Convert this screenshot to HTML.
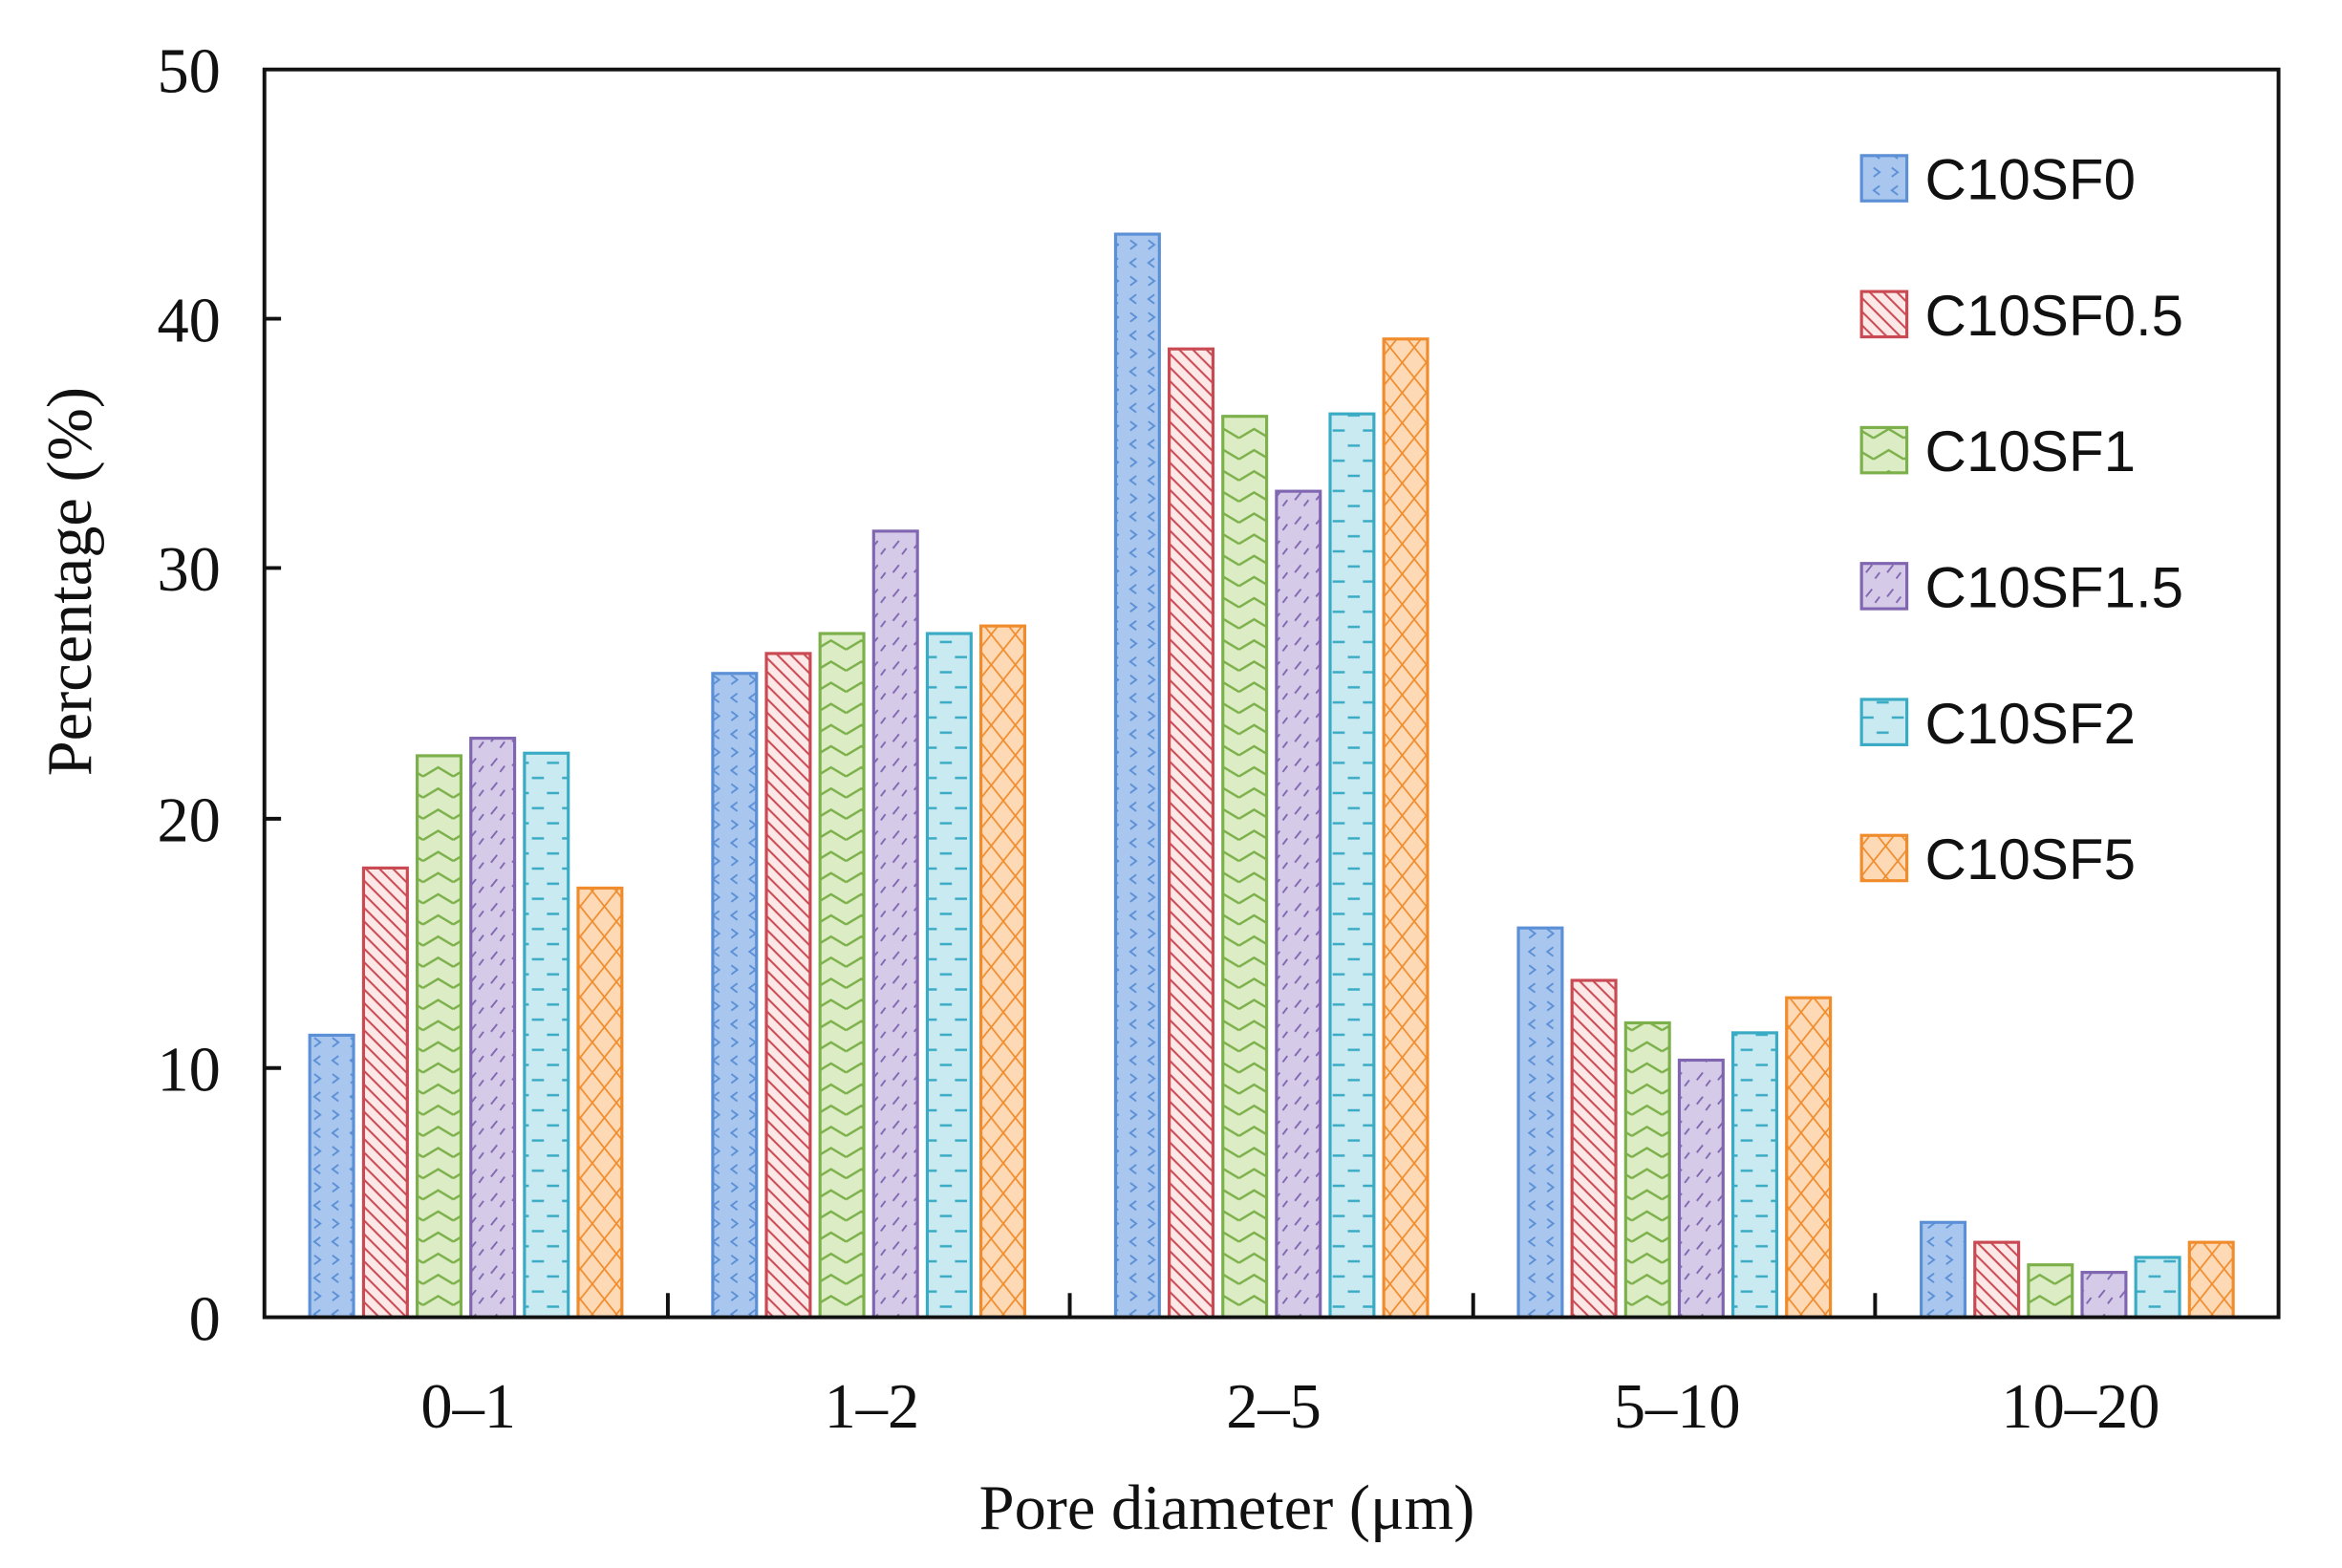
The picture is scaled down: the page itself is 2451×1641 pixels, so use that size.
<!DOCTYPE html>
<html><head><meta charset="utf-8"><style>html,body{margin:0;padding:0;background:#fff}svg{display:block}
.s0{fill:url(#p0);stroke:#5b8fd6;stroke-width:2}.s1{fill:url(#p1);stroke:#c94a52;stroke-width:2}.s2{fill:url(#p2);stroke:#7cb04a;stroke-width:2}.s3{fill:url(#p3);stroke:#8066b0;stroke-width:2}.s4{fill:url(#p4);stroke:#3aabc4;stroke-width:2}.s5{fill:url(#p5);stroke:#f08c2c;stroke-width:2}
</style></head>
<body>
<svg width="2451" height="1641" viewBox="0 0 1550 1038" preserveAspectRatio="none" xmlns="http://www.w3.org/2000/svg" font-family="Liberation Serif, serif">
<defs>
<pattern id="p0" width="12" height="24" patternUnits="userSpaceOnUse"><rect width="12" height="24" fill="#a9c7ee"/><path d="M8 3 L4 6 L8 9 M4 15 L8 18 L4 21" stroke="#5b8fd6" stroke-width="1.2" fill="none"/></pattern>
<pattern id="p1" width="9" height="9" patternUnits="userSpaceOnUse"><rect width="9" height="9" fill="#fde8e8"/><path d="M-2 -2 L11 11 M-2 7 L2 11 M7 -2 L11 2" stroke="#c94a52" stroke-width="1.3"/></pattern>
<pattern id="p2" width="20" height="14" patternUnits="userSpaceOnUse"><rect width="20" height="14" fill="#dcecc4"/><path d="M0 10 L10 4 L20 10" stroke="#7cb04a" stroke-width="1.5" fill="none"/></pattern>
<pattern id="p3" width="14" height="16" patternUnits="userSpaceOnUse"><rect width="14" height="16" fill="#d5cbe8"/><path d="M3 11 L7 6 M9 15 L12 11" stroke="#8066b0" stroke-width="1.2"/></pattern>
<pattern id="p4" width="20" height="20" patternUnits="userSpaceOnUse"><rect width="20" height="20" fill="#caeaf2"/><path d="M2 5 L10 5 M12 15 L20 15" stroke="#3aabc4" stroke-width="1.6"/></pattern>
<pattern id="p5" width="16" height="20" patternUnits="userSpaceOnUse"><rect width="16" height="20" fill="#fdd9b6"/><path d="M0 0 L16 20 M16 0 L0 20" stroke="#f08c2c" stroke-width="1.1"/></pattern>
</defs>
<g>
<rect class="s0" x="205.0" y="685.3" width="29" height="186.7"/>
<rect class="s1" x="240.6" y="574.6" width="29" height="297.4"/>
<rect class="s2" x="276.1" y="500.3" width="29" height="371.7"/>
<rect class="s3" x="311.6" y="488.7" width="29" height="383.3"/>
<rect class="s4" x="347.1" y="498.6" width="29" height="373.4"/>
<rect class="s5" x="382.6" y="587.9" width="29" height="284.1"/>

<rect class="s0" x="471.7" y="445.8" width="29" height="426.2"/>
<rect class="s1" x="507.2" y="432.6" width="29" height="439.4"/>
<rect class="s2" x="542.7" y="419.4" width="29" height="452.6"/>
<rect class="s3" x="578.2" y="351.6" width="29" height="520.4"/>
<rect class="s4" x="613.7" y="419.4" width="29" height="452.6"/>
<rect class="s5" x="649.2" y="414.4" width="29" height="457.6"/>

<rect class="s0" x="738.3" y="155.0" width="29" height="717.0"/>
<rect class="s1" x="773.8" y="231.0" width="29" height="641.0"/>
<rect class="s2" x="809.3" y="275.6" width="29" height="596.4"/>
<rect class="s3" x="844.8" y="325.2" width="29" height="546.8"/>
<rect class="s4" x="880.3" y="274.0" width="29" height="598.0"/>
<rect class="s5" x="915.8" y="224.4" width="29" height="647.6"/>

<rect class="s0" x="1004.9" y="614.3" width="29" height="257.7"/>
<rect class="s1" x="1040.4" y="649.0" width="29" height="223.0"/>
<rect class="s2" x="1075.9" y="677.1" width="29" height="194.9"/>
<rect class="s3" x="1111.4" y="701.8" width="29" height="170.2"/>
<rect class="s4" x="1146.9" y="683.7" width="29" height="188.3"/>
<rect class="s5" x="1182.4" y="660.5" width="29" height="211.5"/>

<rect class="s0" x="1271.5" y="809.2" width="29" height="62.8"/>
<rect class="s1" x="1307.0" y="822.4" width="29" height="49.6"/>
<rect class="s2" x="1342.5" y="837.3" width="29" height="34.7"/>
<rect class="s3" x="1378.0" y="842.3" width="29" height="29.7"/>
<rect class="s4" x="1413.5" y="832.4" width="29" height="39.6"/>
<rect class="s5" x="1449.0" y="822.4" width="29" height="49.6"/>
</g>
<rect x="175" y="46" width="1333" height="826" fill="none" stroke="#111" stroke-width="2.5"/>
<g stroke="#111" stroke-width="2.5">
<line x1="175" y1="707" x2="186" y2="707"/><line x1="175" y1="542" x2="186" y2="542"/><line x1="175" y1="376" x2="186" y2="376"/><line x1="175" y1="211" x2="186" y2="211"/>
<line x1="442" y1="872" x2="442" y2="856"/><line x1="708" y1="872" x2="708" y2="856"/><line x1="975" y1="872" x2="975" y2="856"/><line x1="1241" y1="872" x2="1241" y2="856"/>
</g>
<g font-size="42" fill="#111" text-anchor="end">
<text x="146" y="887">0</text><text x="146" y="722">10</text><text x="146" y="557">20</text><text x="146" y="391">30</text><text x="146" y="226">40</text><text x="146" y="61">50</text>
</g>
<g font-size="42" fill="#111" text-anchor="middle">
<text x="310" y="945">0–1</text><text x="577" y="945">1–2</text><text x="843" y="945">2–5</text><text x="1110" y="945">5–10</text><text x="1377" y="945">10–20</text>
<text x="812" y="1012">Pore diameter (μm)</text>
<text transform="translate(60,385) rotate(-90)">Percentage (%)</text>
</g>
<g font-size="38" fill="#111" font-family="Liberation Sans, sans-serif">
<rect class="s0" x="1232" y="103" width="30" height="30"/><text x="1274" y="132">C10SF0</text>
<rect class="s1" x="1232" y="193" width="30" height="30"/><text x="1274" y="222">C10SF0.5</text>
<rect class="s2" x="1232" y="283" width="30" height="30"/><text x="1274" y="312">C10SF1</text>
<rect class="s3" x="1232" y="373" width="30" height="30"/><text x="1274" y="402">C10SF1.5</text>
<rect class="s4" x="1232" y="463" width="30" height="30"/><text x="1274" y="492">C10SF2</text>
<rect class="s5" x="1232" y="553" width="30" height="30"/><text x="1274" y="582">C10SF5</text>
</g>
</svg>
</body></html>
